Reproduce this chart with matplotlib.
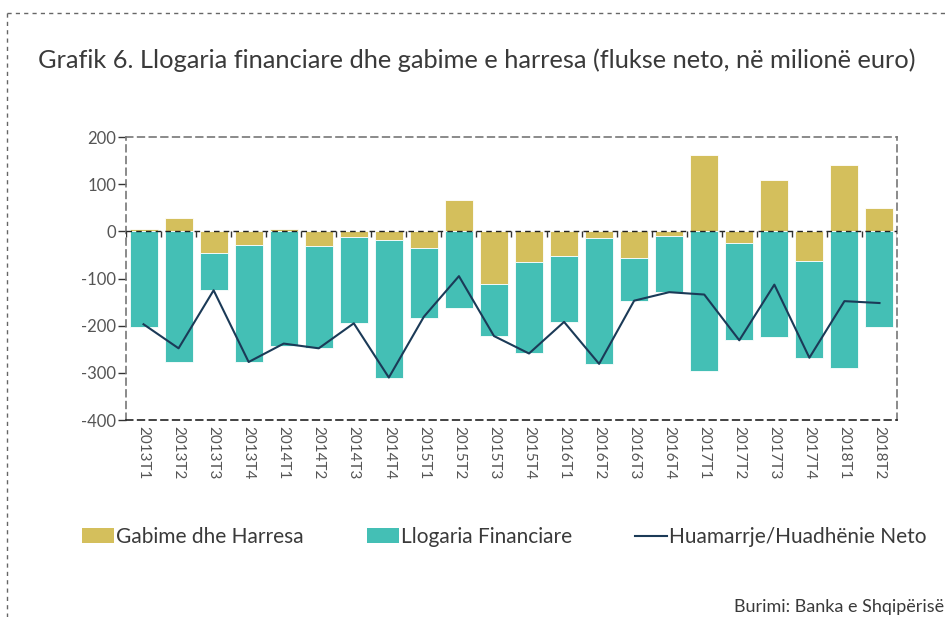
import matplotlib
matplotlib.use("Agg")
import matplotlib.pyplot as plt
from matplotlib.lines import Line2D
from matplotlib.patches import Patch
import matplotlib.transforms as mtransforms
import numpy as np

categories = ["2013T1", "2013T2", "2013T3", "2013T4", "2014T1", "2014T2", "2014T3", "2014T4",
              "2015T1", "2015T2", "2015T3", "2015T4", "2016T1", "2016T2", "2016T3", "2016T4",
              "2017T1", "2017T2", "2017T3", "2017T4", "2018T1", "2018T2"]
gabime = [6, 29, -46, -29, 4, -32, -13, -18, -36, 66, -111, -64, -53, -14, -56, -10,
          162, -25, 109, -63, 141, 49]
llogaria = [-202, -277, -79, -248, -243, -216, -182, -292, -148, -162, -111, -195, -139, -267,
            -91, -119, -296, -206, -223, -205, -290, -202]
neto = [-197, -248, -125, -277, -238, -248, -195, -310, -181, -95, -222, -259, -192, -281,
        -147, -129, -134, -231, -113, -268, -148, -152]
yticks = [200, 100, 0, -100, -200, -300, -400]

GOLD = "#D4BF5C"
TEAL = "#44BFB5"
NAVY = "#1B3A57"
TXT = "#3a3a3a"
FONT = ["Lato", "DejaVu Sans"]

plt.rcParams["font.family"] = FONT

fig = plt.figure(figsize=(9.48, 6.17), dpi=100)
ax = fig.add_axes([126/948, 1-420/617, (897-126)/948, (420-137)/617])

x = np.arange(len(categories))
g = np.array(gabime)
l = np.array(llogaria)
teal_bottom = np.where(g < 0, g, 0)

ax.bar(x, g, width=0.8, color=GOLD, edgecolor="white", linewidth=0.6, zorder=2)
ax.bar(x, l, width=0.8, bottom=teal_bottom, color=TEAL, edgecolor="white", linewidth=0.6, zorder=2)
ax.plot(x, neto, color=NAVY, linewidth=1.5, zorder=4)

ax.axhline(0, color="#222222", linestyle=(0, (4, 3)), linewidth=1.0, zorder=3)

# small boundary ticks hanging below the zero line
trans = mtransforms.blended_transform_factory(ax.transData, ax.transAxes)
bounds = np.arange(len(categories) + 1) - 0.5
ax.vlines(bounds, 400/600 - 6/283, 400/600, transform=trans, color="#333333", linewidth=1.0, zorder=3)

ax.set_xlim(-0.5, len(categories) - 0.5)
ax.set_ylim(-400, 200)
ax.set_yticks(yticks)
ax.set_yticklabels([str(v) for v in yticks], fontsize=12, color="#555555")
ax.tick_params(axis="y", direction="out", length=6, width=1, color="#333333", pad=1)

ax.set_xticks(x)
ax.set_xticklabels(categories, rotation=-90, fontsize=11, color="#555555")
ax.tick_params(axis="x", length=0, pad=4)

for side in ["left", "top", "right"]:
    ax.spines[side].set_linestyle((0, (4, 3)))
    ax.spines[side].set_color("#777777")
    ax.spines[side].set_linewidth(1.2)
ax.spines["bottom"].set_linestyle((0, (4, 3)))
ax.spines["bottom"].set_color("#222222")
ax.spines["bottom"].set_linewidth(1.2)

# title
fig.text(38/948, 1-68/617, "Grafik 6. Llogaria financiare dhe gabime e harresa (flukse neto, në milionë euro)",
         fontsize=18.3, color=TXT, ha="left", va="baseline")

# legend
handles = [Patch(facecolor=GOLD, edgecolor="none"),
           Patch(facecolor=TEAL, edgecolor="none"),
           Line2D([0], [0], color=NAVY, linewidth=1.5)]
labels = ["Gabime dhe Harresa", "Llogaria Financiare", "Huamarrje/Huadhënie Neto"]
leg = fig.legend(handles, labels, loc="center left", bbox_to_anchor=(82/948, 1-537/617), ncol=3,
                 frameon=False, fontsize=15, handlelength=1.55, handleheight=0.75, handletextpad=0.1,
                 columnspacing=3.0, borderaxespad=0, borderpad=0)
for t in leg.get_texts():
    t.set_color(TXT)

fig.text(944/948, 1-612/617, "Burimi: Banka e Shqipërisë", fontsize=13, color=TXT,
         ha="right", va="baseline")

# outer dashed frame
fig.add_artist(Line2D([7/948, 1.0], [1-13/617, 1-13/617], transform=fig.transFigure,
                      color="#666666", linestyle=(0, (3, 3)), linewidth=1.0))
fig.add_artist(Line2D([7/948, 7/948], [1-13/617, 0], transform=fig.transFigure,
                      color="#666666", linestyle=(0, (3, 3)), linewidth=1.0))

fig.savefig("out.png", dpi=100)
